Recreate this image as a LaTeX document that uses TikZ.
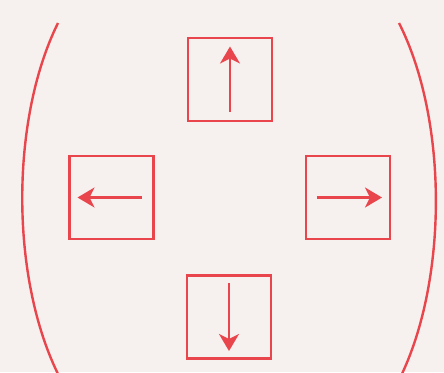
\documentclass[tikz,border=0pt]{standalone}
\usetikzlibrary{arrows.meta}
\definecolor{pen}{HTML}{E8464C}
\definecolor{paper}{HTML}{F6F0EF}
\begin{document}
\begin{tikzpicture}[x=1pt,y=-1pt,
  keybox/.style={draw=pen,line width=2.5pt,minimum width=84pt,minimum height=83pt,inner sep=0pt},
  arr/.style={draw=pen,line width=2.3pt,-{Stealth[length=17pt,width=20pt,inset=5pt]}},
  paren/.style={draw=pen,line width=2.4pt}]
\fill[paper] (0,0) rectangle (444,372);
\useasboundingbox (0,0) rectangle (444,372);
\begin{scope}
\clip (0,0) rectangle (444,372);
\draw[paren] (58,23) .. controls (10,120) and (10,280) .. (60,378);
\draw[paren] (399,23) .. controls (448,120) and (448,280) .. (400,378);
\end{scope}
\node[keybox] (up) at (230,79.5) {};
\node[keybox] (lt) at (111.5,197.5) {};
\node[keybox] (rt) at (348,197.5) {};
\node[keybox] (dn) at (229,317) {};
\draw[arr] ([yshift=-32pt]up.center) -- ([yshift=33pt]up.center);
\draw[arr] ([xshift=30pt]lt.center) -- ([xshift=-34pt]lt.center);
\draw[arr] ([xshift=-31pt]rt.center) -- ([xshift=34pt]rt.center);
\draw[arr] ([yshift=34pt]dn.center) -- ([yshift=-34pt]dn.center);
\end{tikzpicture}
\end{document}
